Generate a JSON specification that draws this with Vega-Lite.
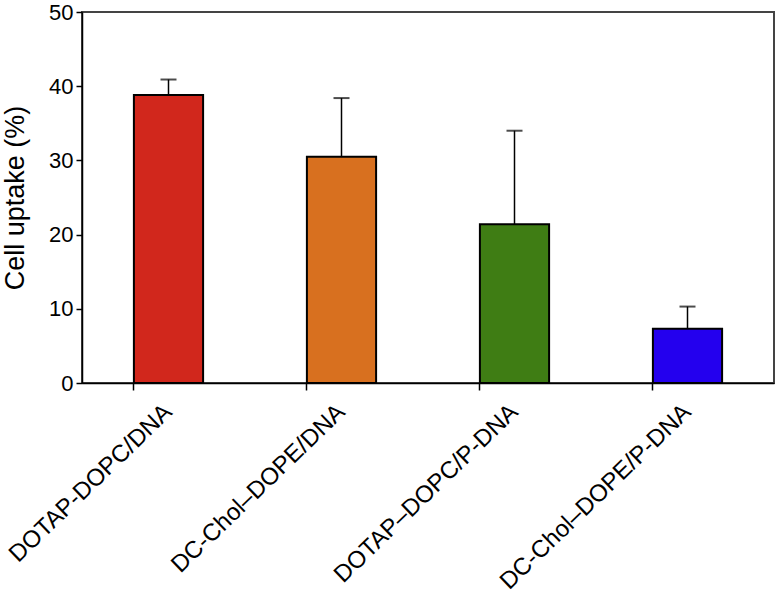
{
  "$schema": "https://vega.github.io/schema/vega-lite/v6.json",
  "width": 692,
  "height": 371,
  "autosize": {"type": "none"},
  "padding": {"left": 82, "top": 12, "right": 2, "bottom": 217},
  "background": "white",
  "config": {
    "font": "Liberation Sans",
    "view": {"stroke": "#444", "strokeWidth": 2}
  },
  "data": {
    "values": [
      {"name": "DOTAP-DOPC/DNA", "uptake": 38.8, "upper": 40.9},
      {"name": "DC-Chol–DOPE/DNA", "uptake": 30.5, "upper": 38.4},
      {"name": "DOTAP–DOPC/P-DNA", "uptake": 21.4, "upper": 34.0},
      {"name": "DC-Chol–DOPE/P-DNA", "uptake": 7.3, "upper": 10.3}
    ]
  },
  "encoding": {
    "x": {
      "field": "name",
      "type": "nominal",
      "sort": null,
      "scale": {"paddingInner": 0.6, "paddingOuter": 0.3},
      "axis": {
        "title": null,
        "labelAngle": -44,
        "labelAlign": "right",
        "labelBaseline": "middle",
        "labelFontSize": 24,
        "labelLimit": 500,
        "labelColor": "#000",
        "labelPadding": 18,
        "bandPosition": 0,
        "tickSize": 7,
        "tickColor": "#000",
        "tickWidth": 1.5,
        "domainColor": "#000",
        "domainWidth": 1.5,
        "grid": false
      }
    }
  },
  "layer": [
    {
      "mark": {"type": "rule", "color": "#000", "strokeWidth": 1.5},
      "encoding": {
        "y": {"field": "uptake", "type": "quantitative"},
        "y2": {"field": "upper"}
      }
    },
    {
      "mark": {"type": "tick", "color": "#000", "size": 16, "thickness": 2},
      "encoding": {
        "y": {"field": "upper", "type": "quantitative"}
      }
    },
    {
      "mark": {"type": "bar", "stroke": "#000", "strokeWidth": 2},
      "encoding": {
        "y": {
          "field": "uptake",
          "type": "quantitative",
          "scale": {"domain": [0, 50], "nice": false},
          "axis": {
            "title": "Cell uptake (%)",
            "titleFontSize": 27,
            "titleFontWeight": "normal",
            "titleColor": "#000",
            "titlePadding": 19,
            "values": [0, 10, 20, 30, 40, 50],
            "labelFontSize": 22,
            "labelColor": "#000",
            "labelPadding": 3,
            "tickSize": 6,
            "tickColor": "#000",
            "tickWidth": 1.5,
            "domainColor": "#000",
            "domainWidth": 1.5,
            "grid": false
          }
        },
        "color": {
          "field": "name",
          "type": "nominal",
          "sort": null,
          "legend": null,
          "scale": {
            "domain": ["DOTAP-DOPC/DNA", "DC-Chol–DOPE/DNA", "DOTAP–DOPC/P-DNA", "DC-Chol–DOPE/P-DNA"],
            "range": ["#D1271C", "#D8701F", "#3F7D14", "#2400EE"]
          }
        }
      }
    }
  ]
}
